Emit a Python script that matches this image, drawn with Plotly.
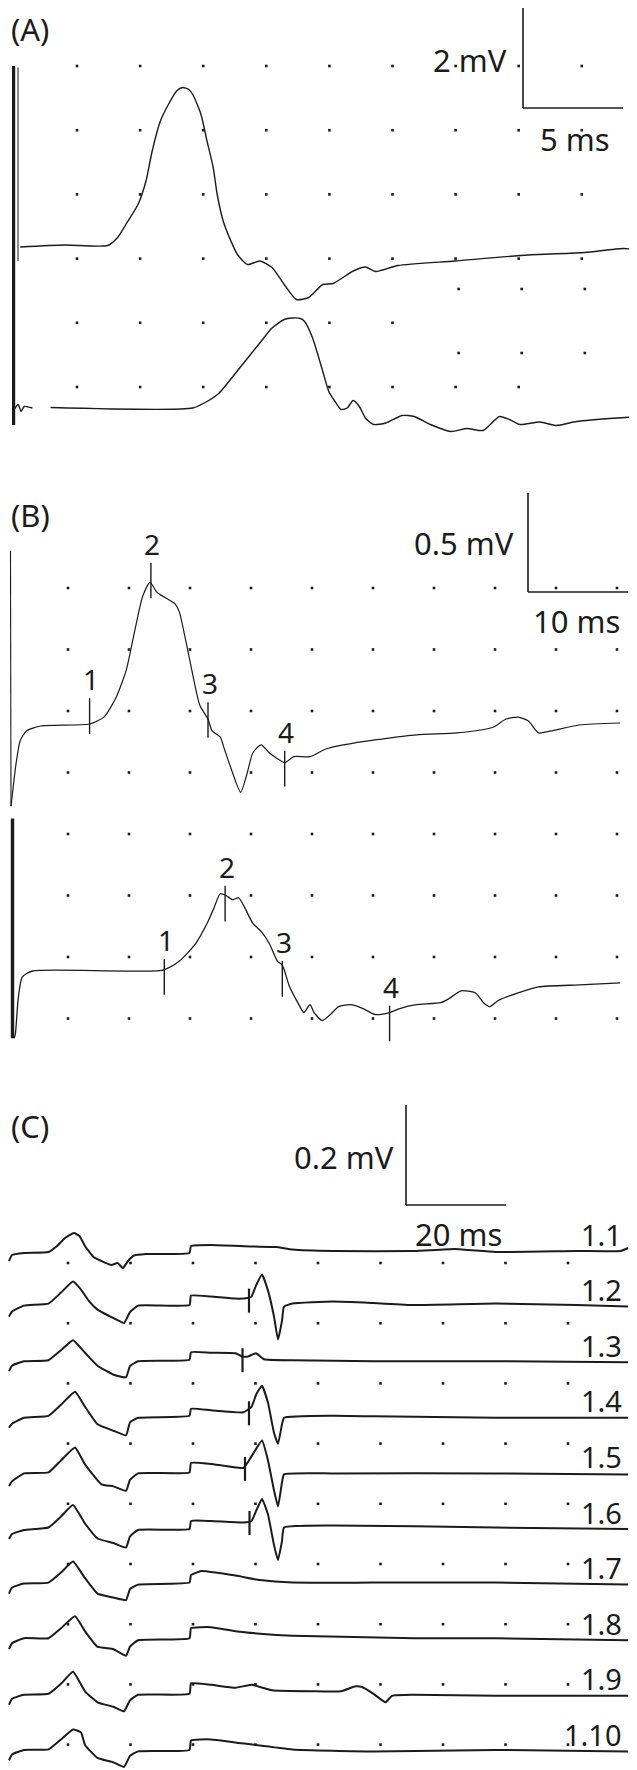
import plotly.graph_objects as go

W, H = 637, 1770
INK = "#1b1b1b"
FONT = "Noto Sans"

# ---------------- Panel A : time (ms), voltage (mV) ----------------
a1_t = [0.61, 2.84, 4.98, 5.48, 5.89, 6.5, 6.9, 7.21, 7.62, 8.02, 8.43, 8.73, 9.04, 9.24, 9.65,
        9.95, 10.26, 10.46, 10.76, 11.07, 11.47, 11.98, 12.59, 13.2, 13.81, 14.42, 15.03, 15.74,
        16.25, 17.26, 17.87, 18.38, 19.5, 22.34, 26.0, 28.84, 30.77, 31.84]
a1_v = [-0.02, 0.02, 0.01, 0.17, 0.43, 0.83, 1.3, 1.9, 2.5, 2.83, 3.1, 3.17, 3.13, 3.03, 2.63,
        2.1, 1.57, 1.03, 0.5, 0.17, -0.17, -0.37, -0.30, -0.43, -0.77, -1.07, -1.03, -0.77,
        -0.75, -0.5, -0.42, -0.51, -0.39, -0.3, -0.18, -0.13, -0.05, -0.1]
a2_t = [0.30, 0.51, 0.65, 0.81, 1.22, None, 2.13, 9.24, 9.95, 10.56, 11.58, 12.59, 13.2, 13.81,
        14.22, 14.62, 14.83, 15.23, 15.74, 16.04, 16.35, 16.65, 16.96, 17.26, 17.57, 17.87, 18.28,
        18.89, 19.7, 20.31, 21.12, 22.14, 22.95, 23.76, 24.57, 25.08, 25.59, 26.6, 27.42, 28.43,
        30.46, 31.84]
a2_v = [-0.03, 0.07, -0.07, 0.03, 0.0, None, 0.01, 0.0, 0.13, 0.3, 0.8, 1.3, 1.6, 1.77,
        1.8, 1.79, 1.73, 1.4, 0.73, 0.33, 0.13, -0.03, 0.0, 0.15, 0.03, -0.2, -0.33,
        -0.3, -0.15, -0.17, -0.33, -0.47, -0.41, -0.45, -0.17, -0.23, -0.33, -0.28, -0.35, -0.27,
        -0.2, -0.17]
a_stim_thin_t = [0.5, 0.5]
a_stim_thin_v = [3.57, -0.3]          # relative to trace A1
a_stim_thick_t = [0.28, 0.28]
a_stim_thick_v = [6.84, -0.34]        # relative to trace A2
A_SCALE = (5, 2)                      # 5 ms, 2 mV

# ---------------- Panel B ----------------
b1_t = [0.25, 0.3, 0.82, 1.22, 1.84, 3.27, 8.16, 9.59, 10.82, 11.84, 12.65, 13.47, 14.2, 14.9, 15.5,
        16.73, 17.14, 17.76, 18.37, 19.18, 20.0, 20.41, 21.22, 21.63, 22.24, 23.27, 23.88, 24.49,
        25.31, 26.12, 26.94, 27.67, 28.57, 30.2, 31.84, 34.69, 40.82, 44.9, 48.57, 49.8, 51.02,
        52.04, 53.06, 54.29, 57.14, 61.22]
b1_v = [0.88, -0.41, -0.19, -0.08, -0.03, -0.005, 0.005, 0.04, 0.14, 0.28, 0.47, 0.65, 0.72, 0.67, 0.65,
        0.61, 0.57, 0.43, 0.28, 0.10, 0.03, -0.03, -0.06, -0.12, -0.21, -0.34, -0.25, -0.14,
        -0.10, -0.14, -0.17, -0.19, -0.16, -0.16, -0.12, -0.09, -0.05, -0.04, -0.01, 0.03, 0.04,
        0.02, -0.04, -0.03, 0.0, 0.01]
b2_t = [0.6, 0.73, 1.02, 1.43, 2.45, 15.51, 17.14, 18.78, 20.0, 20.61, 21.22, 21.84, 22.45, 23.06,
        23.67, 24.49, 25.31, 26.12, 26.94, 27.43, 28.16, 28.98, 29.59, 30.2, 30.61, 31.43, 32.24,
        33.06, 34.29, 35.51, 36.73, 38.16, 39.18, 40.82, 43.27, 44.08, 45.31, 46.73, 47.55, 48.16,
        48.98, 51.02, 53.06, 57.14, 61.22]
b2_v = [-0.34, -0.32, -0.14, -0.03, 0.0, 0.005, 0.05, 0.14, 0.25, 0.32, 0.39, 0.38, 0.36, 0.37,
        0.32, 0.24, 0.20, 0.14, 0.05, 0.03, -0.08, -0.16, -0.21, -0.17, -0.21, -0.25, -0.22,
        -0.18, -0.17, -0.19, -0.22, -0.21, -0.19, -0.17, -0.16, -0.14, -0.10, -0.11, -0.16, -0.18,
        -0.15, -0.11, -0.08, -0.07, -0.06]
b2_stim_t = [0.45, 0.45]
b2_stim_v = [0.77, -0.34]
b_mark_labels = ["1", "2", "3", "4"]
b1_mark_t = [8.16, 14.29, 20.0, 27.67]
b1_mark_v = [0.045, 0.73, 0.025, -0.22]
b2_mark_t = [15.63, 21.71, 27.43, 38.16]
b2_mark_v = [-0.03, 0.34, -0.04, -0.265]
B_SCALE = (10, 0.5)

# ---------------- Panel C ----------------
c_labels = ["1.1", "1.2", "1.3", "1.4", "1.5", "1.6", "1.7", "1.8", "1.9", "1.10"]
c11_t = [0.2, 0.8, 3.2, 8.1, 9.8, 11.4, 13.2, 14.3, 15.4, 17.1, 18.7, 20.7, 21.9, 23.0, 24.0, 25.2,
         27.6, 36.3, 36.6, 40.6, 48.7, 53.6, 56.9, 65.0, 81.2, 89.4, 97.5, 113.7, 122.5, 124.0]
c11_v = [-0.02, -0.008, -0.004, -0.002, 0.01, 0.026, 0.036, 0.03, 0.01, -0.012, -0.02, -0.028, -0.024,
         -0.034, -0.02, -0.009, -0.006, -0.004, 0.01, 0.012, 0.009, 0.008, 0.003, 0.0, 0.0, 0.004,
         -0.002, 0.0, 0.0, 0.006]
c12_t = [0.2, 0.8, 3.2, 8.1, 10.6, 13.0, 14.6, 16.2, 17.9, 20.3, 21.9, 23.2, 24.4, 26.0, 36.3, 36.6,
         40.6, 45.5, 47.9, 48.7, 49.6, 50.8, 52.0, 53.2, 54.0, 54.8, 55.2, 56.9, 65.0, 73.1, 81.2,
         97.5, 113.7, 124.0]
c12_v = [-0.02, -0.01, 0.002, 0.006, 0.028, 0.05, 0.034, 0.011, -0.006, -0.019, -0.027, -0.033,
         -0.011, 0.002, 0.003, 0.022, 0.02, 0.016, 0.017, 0.02, 0.042, 0.064, 0.032, -0.02, -0.066,
         -0.028, 0.0, 0.006, 0.01, 0.007, 0.003, 0.006, 0.003, 0.0]
c13_t = [0.2, 0.8, 3.2, 8.1, 10.6, 13.0, 15.4, 17.9, 21.1, 23.6, 24.4, 26.0, 36.3, 36.6, 40.6, 45.5,
         46.7, 47.9, 49.6, 51.2, 56.9, 73.1, 97.5, 124.0]
c13_v = [-0.018, -0.007, 0.002, 0.004, 0.024, 0.044, 0.019, -0.007, -0.025, -0.03, -0.008, 0.002,
         0.005, 0.02, 0.019, 0.018, 0.012, 0.011, 0.018, 0.006, 0.004, 0.002, 0.002, 0.0]
c14_t = [0.2, 0.8, 3.2, 8.1, 10.6, 13.4, 15.4, 17.9, 21.1, 23.6, 24.4, 26.0, 36.3, 36.6, 40.6, 47.1,
         48.7, 49.7, 50.8, 52.0, 53.2, 54.0, 54.8, 55.2, 65.0, 73.1, 97.5, 124.0]
c14_v = [-0.02, -0.012, 0.0, 0.004, 0.026, 0.052, 0.022, -0.013, -0.026, -0.035, -0.009, 0.0,
         0.004, 0.018, 0.015, 0.011, 0.022, 0.048, 0.064, 0.03, -0.03, -0.052, -0.013, 0.0, 0.004,
         0.003, 0.0, 0.0]
c15_t = [0.2, 0.8, 3.2, 8.1, 10.6, 13.4, 15.4, 18.7, 21.1, 23.6, 24.4, 26.0, 36.3, 36.6, 40.6, 47.1,
         48.7, 50.8, 52.0, 53.2, 54.0, 54.8, 55.2, 65.0, 97.5, 124.0]
c15_v = [-0.025, -0.016, 0.0, 0.002, 0.026, 0.052, 0.018, -0.022, -0.026, -0.035, -0.013, 0.0,
         0.002, 0.021, 0.019, 0.011, 0.034, 0.066, 0.026, -0.034, -0.066, -0.018, -0.002, 0.0, 0.0,
         -0.002]
c16_t = [0.2, 0.8, 3.2, 8.1, 10.6, 13.0, 15.4, 17.9, 21.1, 23.6, 24.4, 26.0, 36.3, 36.6, 40.6, 47.1,
         48.7, 49.7, 50.8, 52.0, 53.2, 54.0, 54.8, 55.2, 65.0, 97.5, 124.0]
c16_v = [-0.02, -0.01, -0.002, 0.003, 0.025, 0.048, 0.011, -0.019, -0.028, -0.037, -0.015, -0.002,
         0.0, 0.016, 0.016, 0.013, 0.016, 0.038, 0.06, 0.029, -0.032, -0.062, -0.024, 0.003, 0.007,
         0.003, 0.0]
c17_t = [0.2, 0.8, 3.2, 8.1, 10.6, 13.0, 15.4, 17.9, 21.1, 23.6, 24.4, 26.0, 36.3, 36.6, 38.7, 45.5,
         50.4, 56.9, 73.1, 97.5, 124.0]
c17_v = [-0.018, -0.006, 0.002, 0.004, 0.024, 0.046, 0.013, -0.018, -0.026, -0.031, -0.009, 0.0,
         0.004, 0.019, 0.027, 0.018, 0.009, 0.004, 0.004, 0.004, 0.0]
c18_t = [0.2, 0.8, 3.2, 8.1, 10.6, 13.4, 15.4, 17.9, 21.1, 23.6, 24.4, 26.0, 36.3, 36.6, 40.6, 45.5,
         50.4, 56.9, 81.2, 97.5, 124.0]
c18_v = [-0.018, -0.006, 0.004, 0.004, 0.024, 0.048, 0.018, -0.013, -0.018, -0.031, -0.013, 0.0,
         0.004, 0.024, 0.026, 0.018, 0.013, 0.009, 0.004, 0.004, 0.0]
c19_t = [0.2, 0.8, 3.2, 8.1, 10.6, 13.0, 15.4, 17.9, 21.1, 23.2, 24.4, 26.0, 36.3, 36.6, 40.6, 45.5,
         48.7, 52.8, 60.9, 66.6, 69.5, 70.7, 73.1, 75.5, 76.8, 81.2, 97.5, 124.0]
c19_v = [-0.018, -0.006, 0.002, 0.004, 0.024, 0.048, 0.009, -0.013, -0.022, -0.031, -0.009, 0.002,
         0.004, 0.025, 0.022, 0.016, 0.022, 0.011, 0.009, 0.009, 0.019, 0.018, 0.004, -0.013, 0.0,
         0.002, 0.0, 0.0]
c110_t = [0.2, 0.8, 3.2, 8.1, 10.6, 13.0, 14.6, 15.4, 17.9, 21.1, 23.2, 24.4, 26.0, 36.3, 36.6, 40.6,
          45.5, 56.9, 73.1, 97.5, 124.0]
c110_v = [-0.018, -0.006, 0.003, 0.004, 0.024, 0.044, 0.038, 0.013, -0.013, -0.022, -0.031, -0.009,
          0.0, 0.003, 0.022, 0.024, 0.018, 0.004, 0.0, 0.003, 0.0]
c_series_t = [c11_t, c12_t, c13_t, c14_t, c15_t, c16_t, c17_t, c18_t, c19_t, c110_t]
c_series_v = [c11_v, c12_v, c13_v, c14_v, c15_v, c16_v, c17_v, c18_v, c19_v, c110_v]
c_mark_trace = [1, 2, 3, 4, 5]
c_mark_t = [48.2, 46.9, 48.2, 47.4, 48.3]
c_mark_v = [0.012, 0.004, 0.009, 0.009, 0.012]
C_SCALE = (20, 0.2)

# ---------------- layout geometry (page pixels) ----------------
PANELS = {
    "A": dict(top=0, bottom=470, ppms=20.0, ppmv=50.0, xa="x", ya="y"),
    "B": dict(top=480, bottom=1062, ppms=10.0, ppmv=198.0, xa="x2", ya="y2"),
    "C": dict(top=1078, bottom=1770, ppms=5.0, ppmv=500.0, xa="x3", ya="y3"),
}


def X(p, px):
    return px / PANELS[p]["ppms"]


def Y(p, py):
    return -(py - PANELS[p]["top"]) / PANELS[p]["ppmv"]


fig = go.Figure()


def add_line(p, t, v, off, width, color=INK, smooth=0.0):
    ys = [None if a is None else a + off for a in v]
    line = dict(color=color, width=width)
    if smooth > 0:
        line.update(shape="spline", smoothing=smooth)
    fig.add_trace(go.Scatter(x=t, y=ys, mode="lines", line=line,
                             xaxis=PANELS[p]["xa"], yaxis=PANELS[p]["ya"],
                             hoverinfo="skip", showlegend=False, connectgaps=False))


def add_dots(p, xs, ys):
    fig.add_trace(go.Scatter(x=xs, y=ys, mode="markers",
                             marker=dict(color=INK, size=2.6, symbol="square"),
                             xaxis=PANELS[p]["xa"], yaxis=PANELS[p]["ya"],
                             hoverinfo="skip", showlegend=False))


annotations = []
shapes = []


def text(p, s, px, py, anchor="left", size=31):
    annotations.append(dict(text=s, x=X(p, px), y=Y(p, py), xref=PANELS[p]["xa"],
                            yref=PANELS[p]["ya"], xanchor=anchor, yanchor="middle",
                            showarrow=False, font=dict(family=FONT, size=size, color=INK)))


def scale_bar(p, x0px, y0py, ms, mv):
    xa, ya = PANELS[p]["xa"], PANELS[p]["ya"]
    x0 = X(p, x0px)
    ybot = Y(p, y0py)
    shapes.append(dict(type="line", xref=xa, yref=ya, x0=x0, x1=x0, y0=ybot, y1=ybot + mv,
                       line=dict(color=INK, width=1.6)))
    shapes.append(dict(type="line", xref=xa, yref=ya, x0=x0, x1=x0 + ms, y0=ybot, y1=ybot,
                       line=dict(color=INK, width=1.6)))


# ---------- Panel A ----------
offA1, offA2 = Y("A", 238), Y("A", 400)
gx = [3.45 + 3.155 * i for i in range(9)]
gy = [Y("A", 58 + 64.2 * j) for j in range(6)]
dx, dy = [], []
for j, yv in enumerate(gy):
    ncol = 9 if j < 4 else (6 if j == 4 else 8)
    for i in range(ncol):
        dx.append(gx[i]); dy.append(yv)
for yv in (Y("A", 281), Y("A", 345)):
    for i in (6, 7, 8):
        dx.append(gx[i] + 0.15); dy.append(yv)
add_dots("A", dx, dy)
add_line("A", a_stim_thick_t, a_stim_thick_v, offA2, 3.2)
add_line("A", a_stim_thin_t, a_stim_thin_v, offA1, 1.0)
add_line("A", a1_t, a1_v, offA1, 1.4, smooth=0.6)
add_line("A", a2_t, a2_v, offA2, 1.4, smooth=0.6)
scale_bar("A", 515, 100, *A_SCALE)
text("A", "(A)", 1, 21)
text("A", "2 mV", 501, 52, "right")
text("A", "5 ms", 567, 131, "center")

# ---------- Panel B ----------
offB1, offB2 = Y("B", 717), Y("B", 963)
dx, dy = [], []
for j in range(8):
    for i in range(10):
        dx.append(6.0 + 6.1 * i); dy.append(Y("B", 580 + 61.5 * j))
add_dots("B", dx, dy)
add_line("B", b1_t[:2], b1_v[:2], offB1, 1.1)
add_line("B", b1_t[1:], b1_v[1:], offB1, 1.2, smooth=0.6)
add_line("B", b2_stim_t, b2_stim_v, offB2, 3.4)
add_line("B", b2_t, b2_v, offB2, 1.3, smooth=0.6)
for mt, mv, off in ((b1_mark_t, b1_mark_v, offB1), (b2_mark_t, b2_mark_v, offB2)):
    mx, my = [], []
    for t, v, lab in zip(mt, mv, b_mark_labels):
        mx += [t, t, None]; my += [v + off - 0.09, v + off + 0.09, None]
        annotations.append(dict(text=lab, x=t + 0.15, y=v + off + 0.185, xref="x2", yref="y2",
                                xanchor="center", yanchor="middle", showarrow=False,
                                font=dict(family=FONT, size=28, color=INK)))
    fig.add_trace(go.Scatter(x=mx, y=my, mode="lines", line=dict(color=INK, width=1.4),
                             xaxis="x2", yaxis="y2", hoverinfo="skip", showlegend=False))
scale_bar("B", 520, 584, *B_SCALE)
text("B", "(B)", 1, 507)
text("B", "0.5 mV", 508, 535, "right")
text("B", "10 ms", 568, 613, "center")

# ---------- Panel C ----------
c_off = [Y("C", 1243 + 55.6 * k) for k in range(10)]
dx, dy = [], []
for j in range(9):
    for i in range(9):
        dx.append(12.0 + 12.5 * i); dy.append(Y("C", 1255 + 60.2 * j))
add_dots("C", dx, dy)
for k in range(10):
    add_line("C", c_series_t[k], c_series_v[k], c_off[k], 2.0, smooth=0.4)
    annotations.append(dict(text=c_labels[k], x=X("C", 616), y=c_off[k] + 0.034,
                            xref="x3", yref="y3", xanchor="right", yanchor="middle",
                            showarrow=False, font=dict(family=FONT, size=29, color=INK)))
mx, my = [], []
for k, t, v in zip(c_mark_trace, c_mark_t, c_mark_v):
    mx += [t, t, None]; my += [c_off[k] + v - 0.024, c_off[k] + v + 0.024, None]
fig.add_trace(go.Scatter(x=mx, y=my, mode="lines", line=dict(color=INK, width=2.2),
                         xaxis="x3", yaxis="y3", hoverinfo="skip", showlegend=False))
scale_bar("C", 398, 1197, *C_SCALE)
text("C", "(C)", 1, 1118)
text("C", "0.2 mV", 388, 1149, "right")
text("C", "20 ms", 450, 1226, "center")

layout = dict(width=W, height=H, margin=dict(l=0, r=0, t=0, b=0),
              paper_bgcolor="white", plot_bgcolor="white",
              annotations=annotations, shapes=shapes, showlegend=False)
for p in PANELS.values():
    xa_name = "xaxis" + p["xa"][1:]
    ya_name = "yaxis" + p["ya"][1:]
    layout[xa_name] = dict(domain=[0, 1], range=[0, W / p["ppms"]], visible=False,
                           anchor=p["ya"], fixedrange=True)
    layout[ya_name] = dict(domain=[1 - p["bottom"] / H, 1 - p["top"] / H],
                           range=[-(p["bottom"] - p["top"]) / p["ppmv"], 0], visible=False,
                           anchor=p["xa"], fixedrange=True)
fig.update_layout(**layout)
fig.write_html("out.html")
